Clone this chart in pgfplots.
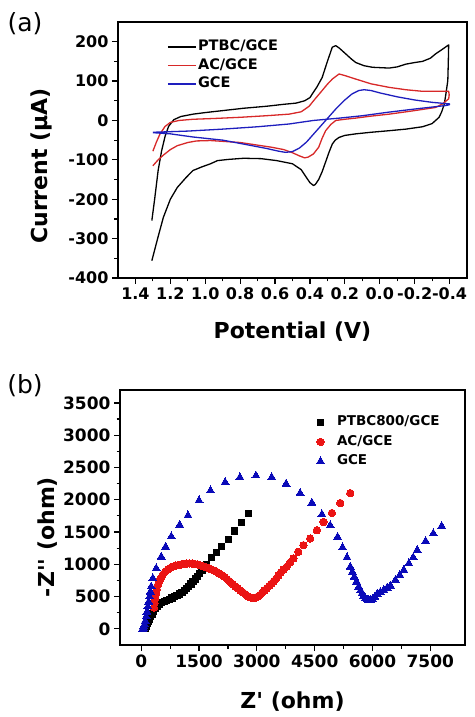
\documentclass[border=0pt]{standalone}
\usepackage{fontspec}
\setmainfont{DejaVu Sans}
\usepackage{pgfplots}
\pgfplotsset{compat=1.18}
\definecolor{cvred}{RGB}{215,40,40}
\definecolor{cvblue}{RGB}{30,30,190}
\definecolor{eisred}{RGB}{235,20,20}
\definecolor{eisblue}{RGB}{10,10,185}
\begin{document}
\begin{tikzpicture}[x=1pt,y=1pt]
\node[font=\fontsize{25}{25}\selectfont] at (25,693) {(a)};
\node[font=\fontsize{25}{25}\selectfont] at (25,331) {(b)};

\begin{axis}[
  at={(118pt,439pt)}, anchor=south west, scale only axis, width=349pt, height=256pt,
  x dir=reverse, xmin=-0.5, xmax=1.5, ymin=-400, ymax=250,
  xtick={1.4,1.2,1.0,0.8,0.6,0.4,0.2,0.0,-0.2,-0.4},
  xticklabels={1.4,1.2,1.0,0.8,0.6,0.4,0.2,0.0,-0.2,-0.4},
  ytick={-400,-300,-200,-100,0,100,200},
  yticklabels={-400,-300,-200,-100,0,100,200},
  minor x tick num=1, minor y tick num=1,
  tick align=outside, tick pos=left,
  major tick length=6pt, minor tick length=3.5pt,
  every tick/.style={line width=1.2pt, black},
  axis line style={line width=1.4pt},
  tick label style={font=\bfseries\fontsize{16}{16}\selectfont},
  xlabel={Potential (V)},
  xlabel style={at={(axis description cs:0.5,-0.21)}, anchor=center, font=\bfseries\fontsize{22}{22}\selectfont},
  ylabel={Current (µA)},
  ylabel style={at={(axis description cs:-0.218,0.4375)}, anchor=center, font=\bfseries\fontsize{22}{22}\selectfont},
  legend style={at={(rel axis cs:0.14,0.935)}, anchor=north west, draw=none, fill=none,
    inner sep=0pt, font=\bfseries\fontsize{14.5}{14.5}\selectfont,
    nodes={inner sep=1.5pt, text height=10.5pt, text depth=3pt}, row sep=2pt},
  legend image code/.code={\draw[#1, line width=1.5pt] (0pt,0pt) -- (28pt,0pt);},
  legend cell align=left,
]
\addplot[black, line width=1.3pt, line join=round] coordinates {
(1.306,-254) (1.29,-200) (1.27,-127) (1.25,-77) (1.23,-40) (1.21,-15) (1.18,2) (1.14,10) (1.07,16) (1.0,20) (0.9,25) (0.78,31) (0.65,36) (0.55,41) (0.48,44) (0.43,50) (0.40,58) (0.387,67) (0.36,85) (0.33,109) (0.30,150) (0.272,186) (0.252,190) (0.23,183) (0.195,169) (0.16,155) (0.137,147) (0.09,139) (0.042,135) (-0.054,133) (-0.1,136) (-0.15,143) (-0.2,147) (-0.245,150) (-0.29,158) (-0.32,169) (-0.36,181) (-0.395,192) (-0.393,150) (-0.39,101) (-0.38,70) (-0.37,42) (-0.355,22) (-0.34,8) (-0.3,-8) (-0.245,-16) (-0.15,-22) (-0.054,-26) (0.05,-30) (0.137,-34) (0.2,-38) (0.233,-43) (0.255,-50) (0.272,-60) (0.29,-80) (0.31,-105) (0.33,-130) (0.35,-150) (0.37,-163) (0.38,-165) (0.40,-158) (0.42,-145) (0.45,-125) (0.5,-110) (0.59,-102) (0.68,-97) (0.78,-96) (0.87,-99) (0.93,-102) (0.97,-110) (1.02,-118) (1.07,-127) (1.11,-145) (1.16,-170) (1.2,-200) (1.24,-246) (1.27,-295) (1.306,-356)
};
\addlegendentry{PTBC/GCE}
\addplot[cvred, line width=1.3pt, line join=round] coordinates {
(1.30,-78) (1.28,-55) (1.26,-35) (1.23,-15) (1.2,-5) (1.15,0) (1.07,3) (0.95,5) (0.8,8) (0.65,12) (0.52,16) (0.45,22) (0.405,36) (0.37,55) (0.33,76) (0.30,92) (0.272,105) (0.233,118) (0.2,114) (0.137,105) (0.05,93) (-0.054,84) (-0.15,78) (-0.245,74) (-0.395,74) (-0.398,65) (-0.395,55) (-0.36,42) (-0.32,33) (-0.2,25) (-0.054,16) (0.05,11) (0.137,6) (0.2,3) (0.252,0) (0.28,-10) (0.31,-26) (0.33,-45) (0.35,-68) (0.38,-85) (0.41,-93) (0.43,-95) (0.46,-90) (0.5,-82) (0.55,-74) (0.62,-68) (0.68,-64) (0.8,-56) (0.97,-51) (1.05,-52) (1.1,-56) (1.16,-64) (1.2,-74) (1.24,-88) (1.27,-100) (1.30,-115)
};
\addlegendentry{AC/GCE}
\addplot[cvblue, line width=1.3pt, line join=round] coordinates {
(1.30,-31) (1.2,-34) (1.07,-42) (0.9,-50) (0.78,-60) (0.65,-71) (0.58,-78) (0.54,-81) (0.5,-79) (0.46,-70) (0.42,-55) (0.38,-35) (0.34,-15) (0.3,5) (0.25,30) (0.2,52) (0.16,67) (0.12,76) (0.09,78) (0.05,76) (0.0,70) (-0.1,60) (-0.2,52) (-0.3,46) (-0.4,42) (-0.4,40) (-0.38,38) (-0.2,29) (-0.05,21) (0.1,12) (0.23,6) (0.38,0) (0.52,-9) (0.7,-16) (0.9,-22) (1.1,-27) (1.30,-30)
};
\addlegendentry{GCE}
\end{axis}

\begin{axis}[
  at={(120pt,72pt)}, anchor=south west, scale only axis, width=345pt, height=255pt,
  xmin=-550, xmax=8400, ymin=-250, ymax=3700,
  xtick={0,1500,3000,4500,6000,7500},
  xticklabels={0,1500,3000,4500,6000,7500},
  ytick={0,500,1000,1500,2000,2500,3000,3500},
  yticklabels={0,500,1000,1500,2000,2500,3000,3500},
  minor x tick num=1, minor y tick num=1,
  tick align=outside, tick pos=left,
  major tick length=6pt, minor tick length=3.5pt,
  every tick/.style={line width=1.2pt, black},
  axis line style={line width=1.4pt},
  tick label style={font=\bfseries\fontsize{17}{17}\selectfont},
  xlabel={Z\textquotesingle{} (ohm)},
  xlabel style={at={(axis description cs:0.5,-0.22)}, anchor=center, font=\bfseries\fontsize{22}{22}\selectfont},
  ylabel={-Z\textquotesingle\textquotesingle{} (ohm)},
  ylabel style={at={(axis description cs:-0.21,0.4235)}, anchor=center, font=\bfseries\fontsize{22}{22}\selectfont},
  legend style={at={(rel axis cs:0.569,0.905)}, anchor=north west, draw=none, fill=none,
    inner sep=0pt, font=\bfseries\fontsize{13.5}{13.5}\selectfont,
    nodes={inner sep=1.5pt, text height=10pt, text depth=3pt}, row sep=3.5pt},
  legend image code/.code={\path[draw=none, fill=none] (-4pt,0pt) (15pt,0pt); \draw[#1] plot coordinates {(0pt,0pt)};},
  legend cell align=left,
]
\addplot[only marks, mark=square*, mark size=3.1pt, mark options={draw=black, fill=black, line width=0pt}] coordinates {
(120,0) (145,40) (170,80) (190,115) (215,150) (245,190) (280,230) (320,270) (370,315) (420,350) (475,382) (535,405) (600,425) (665,445) (730,460) (800,478) (865,496) (930,515) (997,540) (1060,568) (1120,598) (1172,628) (1230,662) (1290,695) (1344,730) (1400,772) (1460,815) (1518,860) (1575,905) (1635,955) (1693,1003) (1823,1100) (1953,1180) (2083,1272) (2256,1390) (2430,1517) (2604,1646) (2790,1785)
};
\addlegendentry{PTBC800/GCE}
\addplot[only marks, mark=*, mark size=3.7pt, mark options={draw=eisred, fill=eisred, line width=0pt}] coordinates {
(330,330) (345,400) (360,470) (380,540) (405,610) (435,680) (470,740) (510,790) (560,840) (620,885) (690,920) (760,945) (830,965) (900,980) (970,990) (1040,1000) (1110,1008) (1180,1012) (1250,1014) (1320,1012) (1390,1006) (1460,997) (1530,985) (1600,972) (1670,958) (1740,943) (1810,925) (1880,905) (1950,885) (2020,862) (2090,835) (2160,805) (2230,770) (2300,730) (2370,695) (2440,660) (2510,625) (2580,592) (2650,560) (2720,528) (2780,503) (2840,485) (2900,475) (2960,478) (3020,498) (3080,525) (3140,560) (3200,595) (3260,630) (3320,665) (3380,700) (3440,738) (3500,778) (3560,825) (3620,872) (3690,920) (3776,962) (3860,1025) (3948,1091) (4075,1195) (4208,1296) (4383,1399) (4557,1528) (4729,1656) (4948,1795) (5164,1949) (5424,2103)
};
\addlegendentry{AC/GCE}
\addplot[only marks, mark=triangle*, mark size=4.6pt, mark options={draw=eisblue, fill=eisblue, line width=0pt}] coordinates {
(40,0) (55,15) (70,40) (86,70) (105,120) (130,190) (150,265) (172,345) (194,420) (216,500) (238,575) (260,654) (302,782) (390,937) (520,1116) (633,1270) (781,1430) (997,1610) (1214,1757) (1500,1988) (1797,2142) (2177,2270) (2560,2347) (2977,2373) (3385,2347) (3758,2245) (4122,2101) (4427,1952) (4688,1772) (4904,1602) (5094,1422) (5224,1259) (5339,1105) (5424,960) (5480,880) (5529,806) (5585,730) (5641,652) (5690,595) (5729,550) (5770,510) (5815,473) (5860,452) (5905,445) (5950,448) (6000,460) (6060,495) (6120,540) (6205,570) (6292,602) (6380,635) (6466,668) (6596,756) (6708,833) (6813,910) (6943,1013) (7057,1106) (7161,1219) (7378,1358) (7578,1477) (7794,1590)
};
\addlegendentry{GCE}
\end{axis}
\pgfresetboundingbox
\useasboundingbox (0pt,0pt) rectangle (474pt,717pt);
\end{tikzpicture}
\end{document}
